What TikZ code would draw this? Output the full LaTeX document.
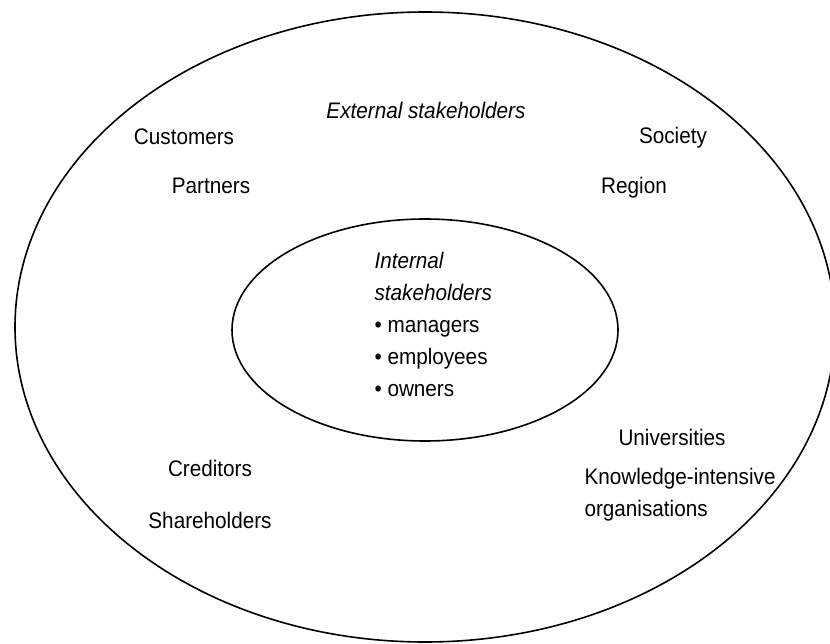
\documentclass[tikz,border=0pt]{standalone}
\usepackage{fontspec}
\setmainfont{Liberation Sans}[FakeStretch=0.92]
\usetikzlibrary{shapes.geometric}

\tikzset{
    ring/.style={ellipse, draw, line width=1.6pt},
    party/.style={font=\fontsize{22.5}{32}\selectfont},
    group/.style={font=\fontsize{22.5}{32}\selectfont\itshape},
}

\begin{document}
\begin{tikzpicture}[x=1pt, y=-1pt]
    \useasboundingbox (0, 0) rectangle (830, 644);

    % The two stakeholder rings
    \node[ring, minimum width=820pt, minimum height=630pt] (outer) at (425, 327) {};
    \node[ring, minimum width=386pt, minimum height=222pt] (inner) at (425, 330) {};

    % External side
    \node[group] (ext) at (426, 110) {External stakeholders};
    \node[party] (cust) at (184, 137) {Customers};
    \node[party] (part) at (211, 186) {Partners};
    \node[party] (soc) at (673, 138) {Society};
    \node[party] (reg) at (634, 188) {Region};
    \node[party] (uni) at (672, 437) {Universities};
    \node[party, anchor=north west, align=left] (know) at (581, 465) {Knowledge-intensive\\organisations};
    \node[party] (cred) at (210, 468) {Creditors};
    \node[party] (share) at (210, 520) {Shareholders};

    % Internal side
    \node[party, anchor=north west, align=left] (int) at (371, 249)
        {\textit{Internal}\\\textit{stakeholders}\\\textbullet\ managers\\\textbullet\ employees\\\textbullet\ owners};
\end{tikzpicture}
\end{document}
